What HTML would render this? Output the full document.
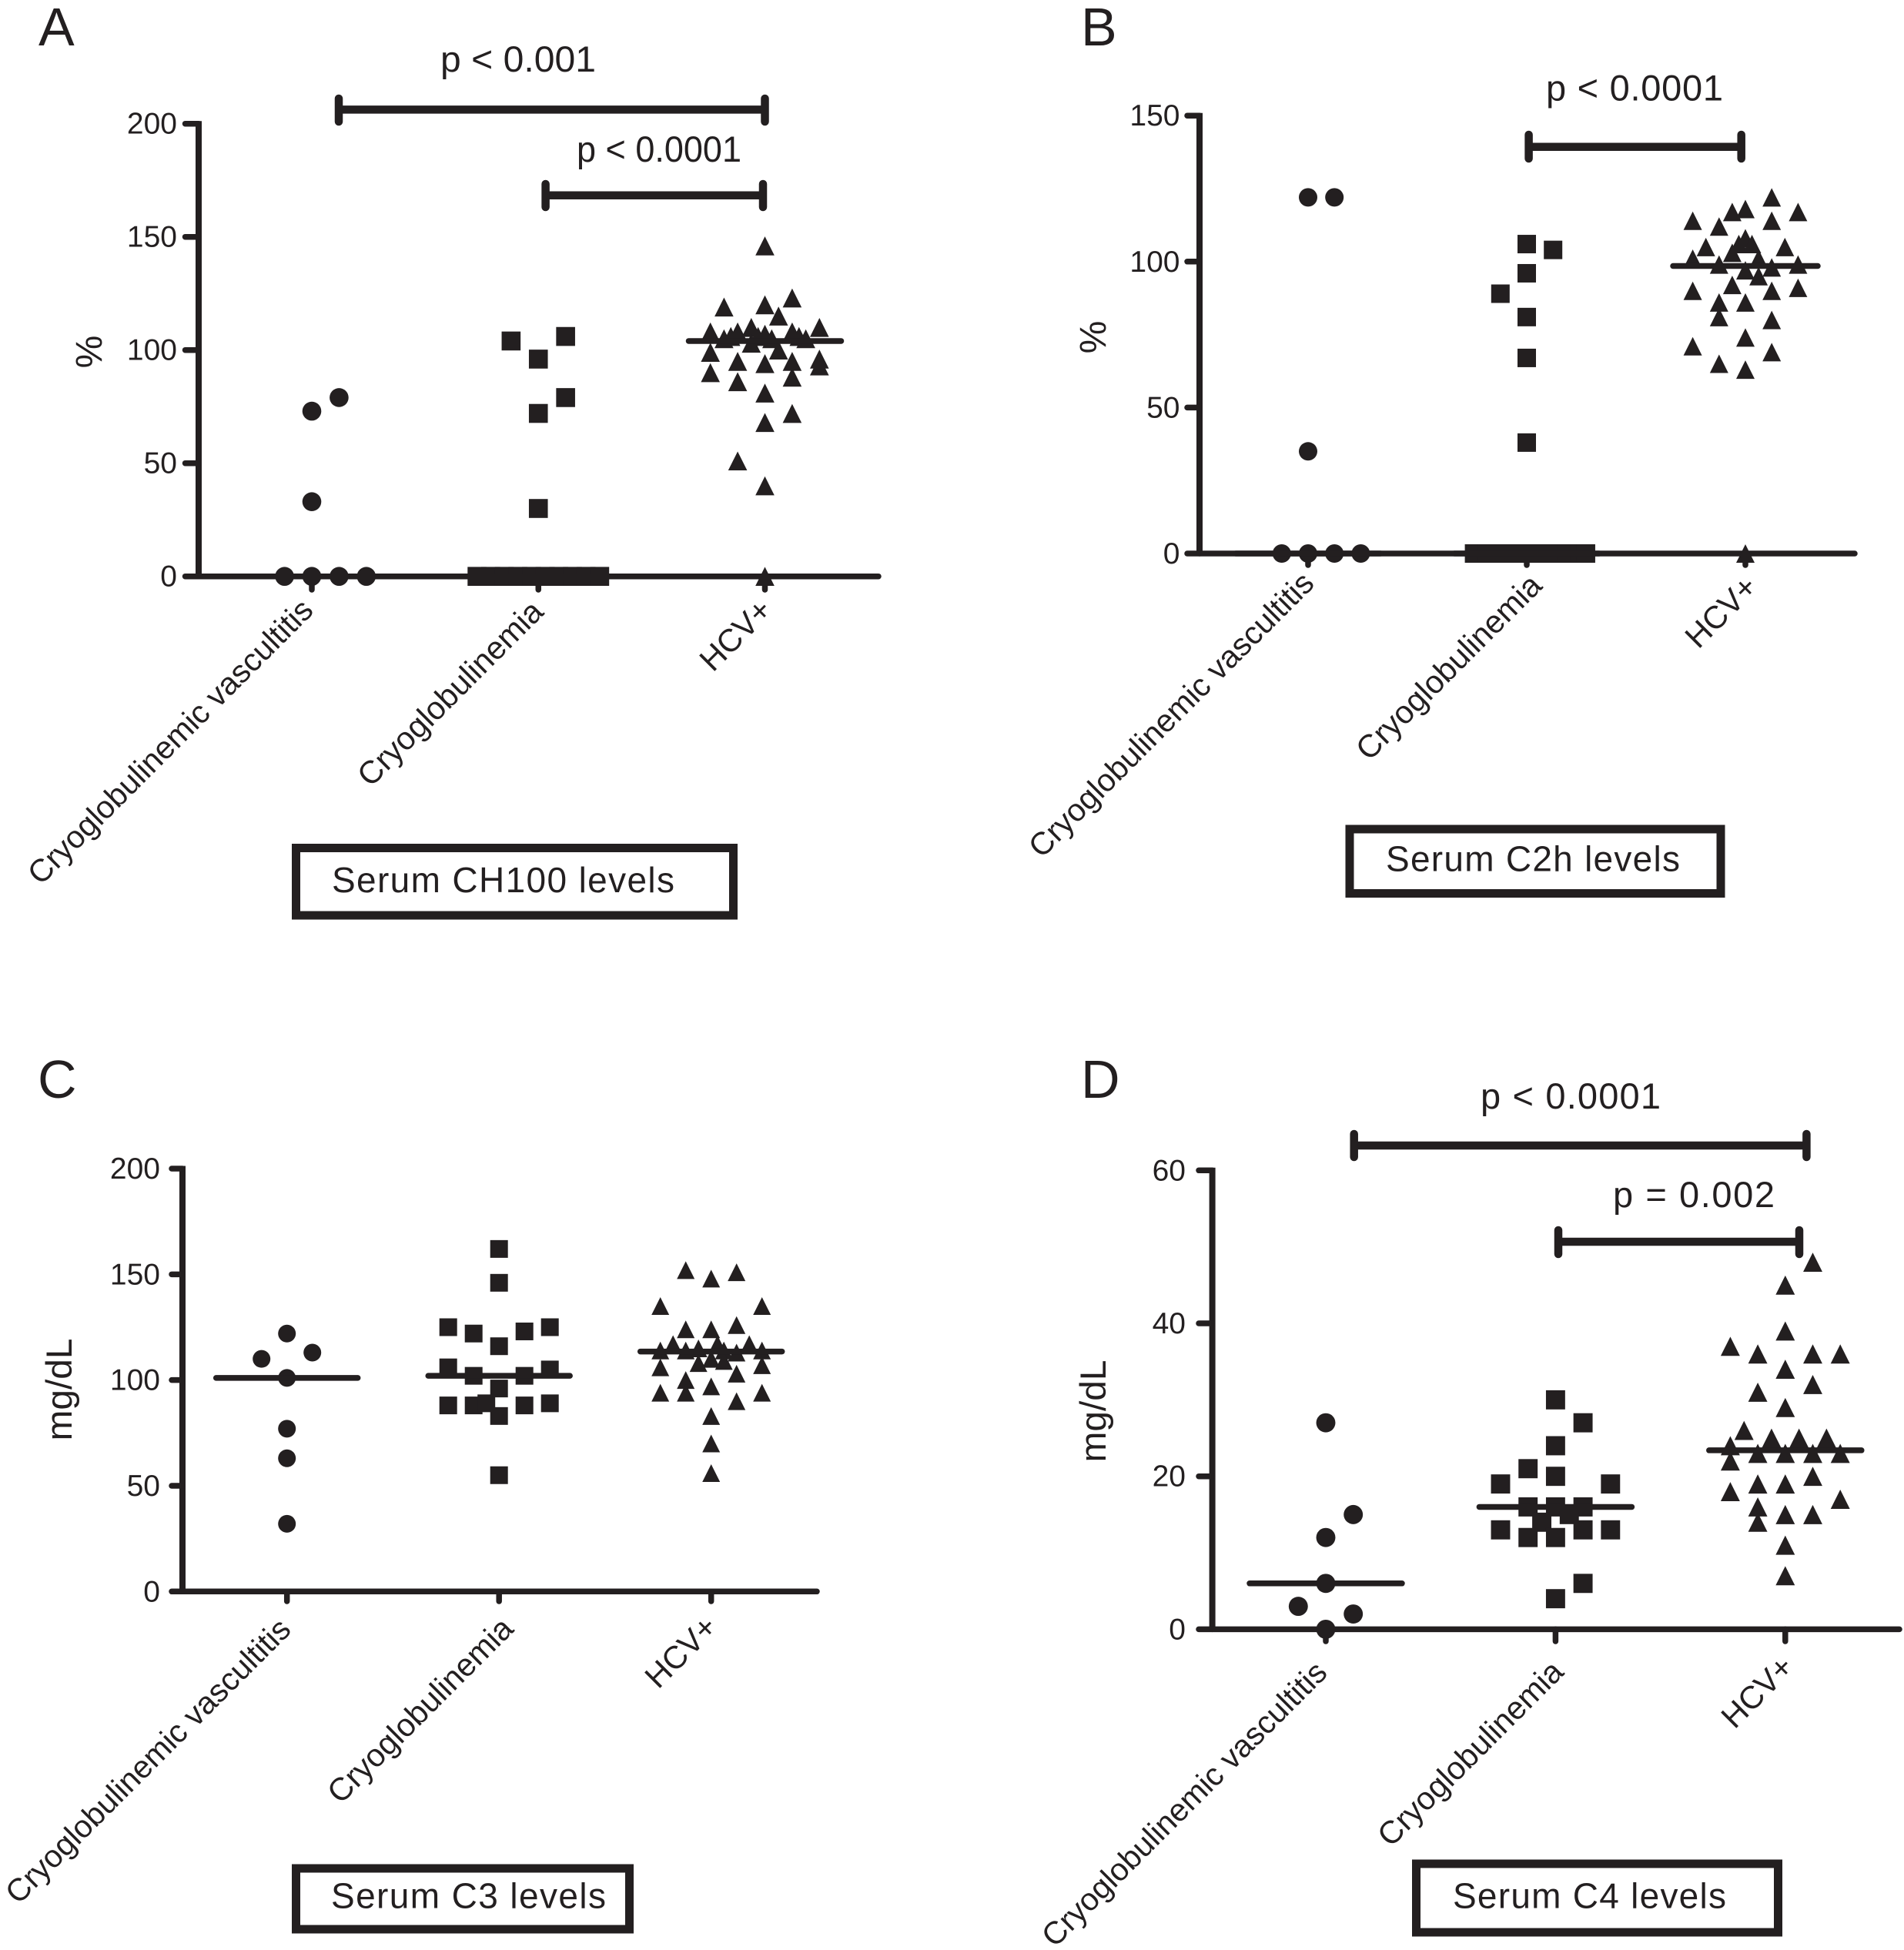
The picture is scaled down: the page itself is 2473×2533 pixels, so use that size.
<!DOCTYPE html>
<html lang="en">
<head>
<meta charset="utf-8">
<title>Serum complement levels</title>
<style>
html,body{margin:0;padding:0;background:#fff}
svg{display:block}
text{font-family:"Liberation Sans",Arial,sans-serif;fill:#231f20}
</style>
</head>
<body>
<svg id="figure" xmlns="http://www.w3.org/2000/svg" width="2473" height="2533" viewBox="0 0 2473 2533">
<rect width="2473" height="2533" fill="#fff"/>

<!-- Panel letters -->
<text x="50" y="59" font-size="70">A</text>
<text x="1404" y="59" font-size="70">B</text>
<text x="49" y="1426" font-size="70">C</text>
<text x="1404" y="1426" font-size="70">D</text>

<!-- Axis titles -->
<text font-size="48" text-anchor="middle" transform="translate(132,457) rotate(-90)">%</text>
<text font-size="48" text-anchor="middle" transform="translate(1436,438) rotate(-90)">%</text>
<text font-size="47" text-anchor="middle" textLength="133" lengthAdjust="spacingAndGlyphs" transform="translate(93,1805) rotate(-90)">mg/dL</text>
<text font-size="47" text-anchor="middle" textLength="133" lengthAdjust="spacingAndGlyphs" transform="translate(1436,1833) rotate(-90)">mg/dL</text>

<!-- Significance brackets -->
<g stroke="#231f20" fill="none">
  <line x1="440" y1="142.4" x2="993.5" y2="142.4" stroke-width="10.5"/>
  <line x1="440" y1="128" x2="440" y2="158" stroke-width="10.5" stroke-linecap="round"/>
  <line x1="993.5" y1="128" x2="993.5" y2="158" stroke-width="10.5" stroke-linecap="round"/>
</g>
<g stroke="#231f20" fill="none">
  <line x1="708.6" y1="253.7" x2="991" y2="253.7" stroke-width="10.5"/>
  <line x1="708.6" y1="239" x2="708.6" y2="269" stroke-width="10.5" stroke-linecap="round"/>
  <line x1="991" y1="239" x2="991" y2="269" stroke-width="10.5" stroke-linecap="round"/>
</g>
<g stroke="#231f20" fill="none">
  <line x1="1985.6" y1="190.7" x2="2261.7" y2="190.7" stroke-width="10.5"/>
  <line x1="1985.6" y1="175" x2="1985.6" y2="206" stroke-width="10.5" stroke-linecap="round"/>
  <line x1="2261.7" y1="175" x2="2261.7" y2="206" stroke-width="10.5" stroke-linecap="round"/>
</g>
<g stroke="#231f20" fill="none">
  <line x1="1758.7" y1="1488" x2="2346.4" y2="1488" stroke-width="10.5"/>
  <line x1="1758.7" y1="1473" x2="1758.7" y2="1503" stroke-width="10.5" stroke-linecap="round"/>
  <line x1="2346.4" y1="1473" x2="2346.4" y2="1503" stroke-width="10.5" stroke-linecap="round"/>
</g>
<g stroke="#231f20" fill="none">
  <line x1="2024" y1="1613" x2="2337" y2="1613" stroke-width="10.5"/>
  <line x1="2024" y1="1598" x2="2024" y2="1629" stroke-width="10.5" stroke-linecap="round"/>
  <line x1="2337" y1="1598" x2="2337" y2="1629" stroke-width="10.5" stroke-linecap="round"/>
</g>

<!-- P-value labels -->
<text x="572" y="93" font-size="47" textLength="202" lengthAdjust="spacingAndGlyphs">p &lt; 0.001</text>
<text x="749" y="210" font-size="47" textLength="214" lengthAdjust="spacingAndGlyphs">p &lt; 0.0001</text>
<text x="2008" y="130.5" font-size="47" textLength="230" lengthAdjust="spacing">p &lt; 0.0001</text>
<text x="1923" y="1440" font-size="47" textLength="234" lengthAdjust="spacing">p &lt; 0.0001</text>
<text x="2095" y="1568" font-size="47" textLength="210" lengthAdjust="spacing">p = 0.002</text>

<!-- Title boxes -->
<rect x="384.5" y="1101.5" width="568" height="87.5" fill="none" stroke="#231f20" stroke-width="11"/>
<text x="431" y="1159" font-size="46" textLength="445" lengthAdjust="spacing">Serum CH100 levels</text>
<rect x="1753" y="1077" width="482" height="83.5" fill="none" stroke="#231f20" stroke-width="11"/>
<text x="1800" y="1131.5" font-size="46" textLength="382" lengthAdjust="spacing">Serum C2h levels</text>
<rect x="384.5" y="2427" width="433" height="79" fill="none" stroke="#231f20" stroke-width="11"/>
<text x="430" y="2478.5" font-size="46" textLength="357" lengthAdjust="spacing">Serum C3 levels</text>
<rect x="1839.5" y="2421" width="470" height="89" fill="none" stroke="#231f20" stroke-width="11"/>
<text x="1887" y="2478.5" font-size="46" textLength="355" lengthAdjust="spacing">Serum C4 levels</text>

<g id="charts"></g>
</svg>

<script>
// Shared categories
const categories = ["Cryoglobulinemic vascultitis", "Cryoglobulinemia", "HCV+"];

// Panel A: serum CH100 (%)
const aTicks = [0, 50, 100, 150, 200];
const aMedians = [0, 0, 104];
const aVasculitisValues = [73, 79, 33, 0, 0, 0, 0];
const aVasculitisSlots = [0, 1, 0, -1, 0, 1, 2];
const aCryoValues = [104, 106, 96, 79, 72, 30, 0, 0, 0, 0, 0, 0, 0, 0, 0, 0];
const aCryoSlots = [-1, 1, 0, 1, 0, 0, -2.25, -1.75, -1.25, -0.75, -0.25, 0.25, 0.75, 1.25, 1.75, 2.25];
const aHcvValues = [146, 119, 120, 123, 115, 108, 110, 105, 106, 108, 110, 103, 106, 107, 105, 108, 106, 105, 99, 100, 95, 94, 95, 96, 93, 90, 88, 86, 81, 72, 68, 51, 40, 0];
const aHcvSlots = [0, -1.5, 0, 1, 0.5, -2, 2, -1.5, -1.25, -1, -0.5, -0.5, -0.25, 0, 0.25, 1, 1.25, 1.5, -2, 0.5, -1, 0, 1, 2, 2, -2, 1, -1, 0, 1, 0, -1, 0, 0];

// Panel B: serum C2h (%)
const bTicks = [0, 50, 100, 150];
const bMedians = [0, 0, 98.5];
const bVasculitisValues = [122, 122, 35, 0, 0, 0, 0];
const bVasculitisSlots = [0, 1, 0, -1, 0, 1, 2];
const bCryoValues = [106, 104, 96, 89, 81, 67, 38, 0, 0, 0, 0, 0, 0, 0, 0, 0, 0];
const bCryoSlots = [0, 1, 0, -1, 0, 0, 0, -2, -1.5, -1, -0.5, 0, 0.5, 1, 1.5, 2, 2.25];
const bHcvValues = [122, 118, 117, 117, 114, 114, 112, 105, 105, 106, 108, 106, 103, 101, 101, 99, 99, 97, 98, 95, 92, 90, 90, 91, 86, 86, 81, 80, 74, 71, 69, 65, 63, 0];
const bHcvSlots = [1, 0, -0.5, 2, -2, 1, -1, -1.5, 1.5, -0.25, 0, 0.25, -0.5, 0.5, -2, -1, 2, 0, 1, 0.5, -0.5, -2, 1, 2, -1, 0, -1, 1, 0, -2, 1, -1, 0, 0];

// Panel C: serum C3 (mg/dL)
const cTicks = [0, 50, 100, 150, 200];
const cMedians = [101, 102, 113.5];
const cVasculitisValues = [122, 110, 113, 101, 77, 63, 32];
const cVasculitisSlots = [0, -1, 1, 0, 0, 0, 0];
const cCryoValues = [162, 146, 125, 122, 123, 125, 116, 106, 102, 102, 105, 96, 88, 88, 89, 83, 88, 89, 55];
const cCryoSlots = [0, 0, -2, -1, 1, 2, 0, -2, -1, 1, 2, 0, -2, -1, -0.5, 0, 1, 2, 0];
const cHcvValues = [152, 148, 151, 135, 135, 126, 124, 124, 117, 117, 117, 114, 114, 115, 114, 110, 114, 109, 113, 108, 106, 107, 103, 100, 97, 94, 94, 94, 90, 83, 70, 56];
const cHcvSlots = [-1, 0, 1, -2, 2, 1, -1, 0, -1.5, 1.5, 0.25, -2, -1, -0.5, 2, 0, 0.5, 0.5, 1, -0.5, -2, 2, 1, -1, 0, -2, -1, 2, 1, 0, 0, 0];

// Panel D: serum C4 (mg/dL)
const dTicks = [0, 20, 40, 60];
const dMedians = [6, 16, 23.4];
const dVasculitisValues = [27, 15, 12, 6, 3, 2, 0];
const dVasculitisSlots = [0, 1, 0, 0, -1, 1, 0];
const dCryoValues = [30, 27, 24, 21, 20, 19, 19, 16, 16, 16, 14, 15, 13, 13, 13, 12, 12, 6, 4];
const dCryoSlots = [0, 1, 0, -1, 0, -2, 2, -1, 0, 1, -0.5, 0.5, -2, 1, 2, -1, 0, 1, 0];
const dHcvValues = [48, 45, 39, 37, 36, 36, 36, 34, 32, 31, 29, 26, 25, 25, 25, 24, 23, 23, 23, 23, 22, 20, 19, 19, 18, 17, 16, 15, 15, 14, 11, 7];
const dHcvSlots = [1, 0, 0, -2, -1, 1, 2, 0, 1, -1, 0, -1.5, -0.5, 0.5, 1.5, -2, -1, 0, 1, 2, -2, 1, -1, 0, -2, 2, -1, 0, 1, -1, 0, 0];

const INK = "#231f20";
const SVG_NS = "http://www.w3.org/2000/svg";
const layer = document.getElementById("charts");

function make(tag, attrs, parent) {
  const el = document.createElementNS(SVG_NS, tag);
  for (const k in attrs) el.setAttribute(k, attrs[k]);
  parent.appendChild(el);
  return el;
}

function drawPanel(p, ticks, medians, groups) {
  const g = make("g", {}, layer);
  
  

  const yMax = ticks[ticks.length - 1];
  const yScale = v => p.y0 - (v / yMax) * (p.y0 - p.yTop);
  const catX = i => p.cat0 + i * p.catStep;
  const xScale = (i, slot) => catX(i) + slot * p.slot;

  // y axis line
  const yAxis = make("line", {x1: p.axisX, x2: p.axisX, y1: yScale(yMax) - 3.5, y2: p.y0, stroke: INK, "stroke-width": p.sw + 0.5}, g);
  
  

  // y ticks + labels
  ticks.forEach(t => {
    const tick = make("line", {x1: p.tickLeft, x2: p.axisX, y1: yScale(t), y2: yScale(t), stroke: INK, "stroke-width": p.sw, "stroke-linecap": "round"}, g);
    
    
    const label = make("text", {x: p.labelRight, y: yScale(t) + 13, "font-size": 39, "text-anchor": "end"}, g);
    
    
    label.textContent = String(t);
  });

  // x axis line
  const xAxis = make("line", {x1: p.axisX, x2: p.xEnd, y1: p.y0, y2: p.y0, stroke: INK, "stroke-width": p.sw, "stroke-linecap": "round"}, g);
  
  

  // x ticks + category labels
  categories.forEach((name, i) => {
    const tick = make("line", {x1: catX(i), x2: catX(i), y1: p.y0, y2: p.tickBottom, stroke: INK, "stroke-width": p.sw, "stroke-linecap": "round"}, g);
    
    
    const a = p.labelEnds[i];
    const label = make("text", {"font-size": i === 0 ? 41 : 41.5, "text-anchor": "end", transform: "translate(" + a[0] + "," + a[1] + ") rotate(-45)"}, g);
    
    
    label.textContent = name;
  });

  // marks
  groups[0].values.forEach((v, n) => {
    const c = make("circle", {cx: xScale(0, groups[0].slots[n]), cy: yScale(v), r: p.mark / 2, fill: INK}, g);
    
    
  });
  groups[1].values.forEach((v, n) => {
    const s = make("rect", {x: xScale(1, groups[1].slots[n]) - p.mark / 2, y: yScale(v) - p.mark / 2, width: p.mark, height: p.mark, fill: INK}, g);
    
    
  });
  groups[2].values.forEach((v, n) => {
    const cx = xScale(2, groups[2].slots[n]);
    const cy = yScale(v);
    const h = p.mark / 2;
    const t = make("polygon", {points: cx + "," + (cy - h) + " " + (cx - h) + "," + (cy + h) + " " + (cx + h) + "," + (cy + h), fill: INK}, g);
    
    
  });

  // median lines
  medians.forEach((m, i) => {
    const line = make("line", {x1: catX(i) - p.medianHalf, x2: catX(i) + p.medianHalf, y1: yScale(m), y2: yScale(m), stroke: INK, "stroke-width": p.sw, "stroke-linecap": "round"}, g);
    
    
  });
}

drawPanel(
  {id: "a", axisX: 258, y0: 748.7, yTop: 160.7, tickLeft: 240.5, labelRight: 230, xEnd: 1141, tickBottom: 766, cat0: 405, catStep: 294.25, slot: 35.4, mark: 24.6, sw: 7.5, medianHalf: 99,
   labelEnds: [[409, 795], [708, 797], [1005, 795]]},
  aTicks, aMedians,
  [{values: aVasculitisValues, slots: aVasculitisSlots}, {values: aCryoValues, slots: aCryoSlots}, {values: aHcvValues, slots: aHcvSlots}]
);
drawPanel(
  {id: "b", axisX: 1558, y0: 719, yTop: 150.2, tickLeft: 1542, labelRight: 1532.5, xEnd: 2409, tickBottom: 734, cat0: 1699, catStep: 284, slot: 34.2, mark: 24, sw: 7.5, medianHalf: 94,
   labelEnds: [[1709, 760], [2005, 763], [2285, 765]]},
  bTicks, bMedians,
  [{values: bVasculitisValues, slots: bVasculitisSlots}, {values: bCryoValues, slots: bCryoSlots}, {values: bHcvValues, slots: bHcvSlots}]
);
drawPanel(
  {id: "c", axisX: 237, y0: 2067.3, yTop: 1518, tickLeft: 223, labelRight: 208, xEnd: 1061, tickBottom: 2080, cat0: 372.7, catStep: 275.5, slot: 33, mark: 23, sw: 7.5, medianHalf: 92,
   labelEnds: [[380, 2119], [669, 2118], [934, 2116]]},
  cTicks, cMedians,
  [{values: cVasculitisValues, slots: cVasculitisSlots}, {values: cCryoValues, slots: cCryoSlots}, {values: cHcvValues, slots: cHcvSlots}]
);
drawPanel(
  {id: "d", axisX: 1574.6, y0: 2116.4, yTop: 1520.3, tickLeft: 1557, labelRight: 1540, xEnd: 2467, tickBottom: 2132, cat0: 1722, catStep: 298.4, slot: 35.7, mark: 24.9, sw: 7.5, medianHalf: 99,
   labelEnds: [[1726, 2175], [2033, 2174], [2332, 2168]]},
  dTicks, dMedians,
  [{values: dVasculitisValues, slots: dVasculitisSlots}, {values: dCryoValues, slots: dCryoSlots}, {values: dHcvValues, slots: dHcvSlots}]
);
</script>
</body>
</html>
